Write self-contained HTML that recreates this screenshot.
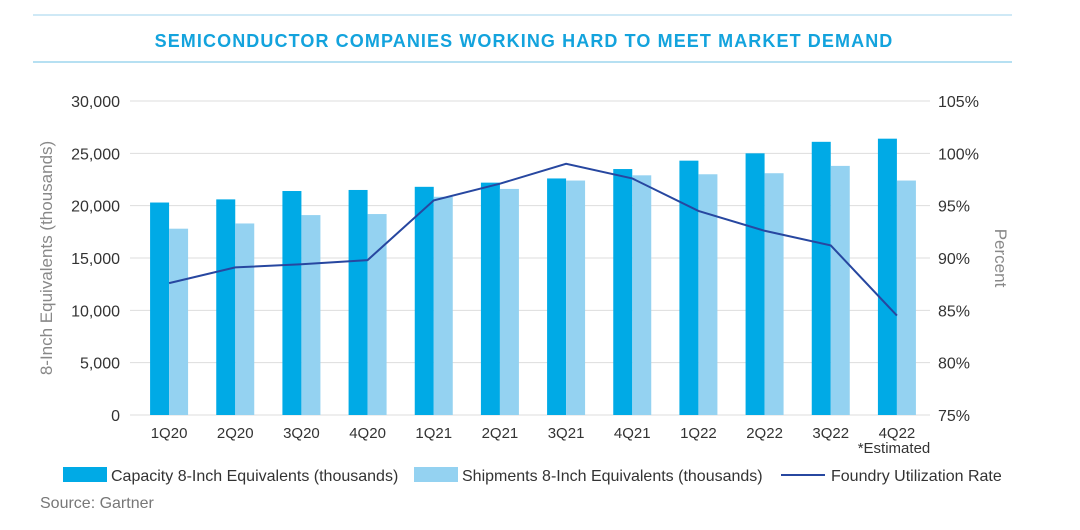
<!DOCTYPE html>
<html><head><meta charset="utf-8"><style>
body{margin:0;background:#fff;font-family:"Liberation Sans",sans-serif;}
svg text{font-family:"Liberation Sans",sans-serif;}
</style></head><body>
<svg width="1080" height="525" xmlns="http://www.w3.org/2000/svg" id="chart">
<line x1="33" y1="15" x2="1012" y2="15" stroke="#9fd3ec" stroke-width="1"/>
<line x1="33" y1="62" x2="1012" y2="62" stroke="#6cc1e6" stroke-width="1"/>
<text x="524" y="47" text-anchor="middle" font-size="18" font-weight="bold" fill="#13a3dd" letter-spacing="1.1">SEMICONDUCTOR COMPANIES WORKING HARD TO MEET MARKET DEMAND</text>
<g id="grid"></g>
<g id="bars"></g>
<g id="line"></g>
<g id="axes"></g>
<text transform="translate(52,258) rotate(-90)" text-anchor="middle" font-size="17" fill="#888">8-Inch Equivalents (thousands)</text>
<text transform="translate(995,258) rotate(90)" text-anchor="middle" font-size="17" fill="#888">Percent</text>
<text x="894" y="453" text-anchor="middle" font-size="15" fill="#333">*Estimated</text>
<g>
<rect x="63" y="467" width="44" height="15" fill="#00aae6"/>
<text x="111" y="481" font-size="16" fill="#333">Capacity 8-Inch Equivalents (thousands)</text>
<rect x="414" y="467" width="44" height="15" fill="#94d2f1"/>
<text x="462" y="481" font-size="16" fill="#333">Shipments 8-Inch Equivalents (thousands)</text>
<line x1="781" y1="475" x2="825" y2="475" stroke="#2747a0" stroke-width="2"/>
<text x="831" y="481" font-size="16" fill="#333">Foundry Utilization Rate</text>
</g>
<text x="40" y="508" font-size="16" fill="#777">Source: Gartner</text>
</svg>
<script>
const categories=["1Q20","2Q20","3Q20","4Q20","1Q21","2Q21","3Q21","4Q21","1Q22","2Q22","3Q22","4Q22"];
const capacity=[20300,20600,21400,21500,21800,22200,22600,23500,24300,25000,26100,26400];
const shipments=[17800,18300,19100,19200,20850,21600,22400,22900,23000,23100,23800,22400];
const utilization=[87.6,89.1,89.4,89.8,95.5,97.1,99.0,97.6,94.5,92.6,91.2,84.5];
const leftTicks=[0,5000,10000,15000,20000,25000,30000];
const rightTicks=[75,80,85,90,95,100,105];
const NS="http://www.w3.org/2000/svg";
const X0=136,X1=930,Y0=415,Y1=101;
const step=(X1-X0)/categories.length;
const yL=v=>Y0-(v/30000)*(Y0-Y1);
const yR=v=>Y0-((v-75)/30)*(Y0-Y1);
const xc=i=>X0+step*(i+0.5);
function mk(tag,attrs,parent){const e=document.createElementNS(NS,tag);for(const k in attrs)e.setAttribute(k,attrs[k]);document.getElementById(parent).appendChild(e);return e;}
leftTicks.forEach((t,i)=>{
 const g=mk("line",{x1:X0-6,x2:X1,y1:yL(t),y2:yL(t),stroke:"#ddd","stroke-width":1},"grid");
 
 
 const l=mk("text",{x:120,y:yL(t)+6,"text-anchor":"end","font-size":16,fill:"#333"},"axes");l.textContent=t.toLocaleString("en-US");
 
 
});
rightTicks.forEach(t=>{
 const l=mk("text",{x:938,y:yR(t)+6,"font-size":16,fill:"#333"},"axes");l.textContent=t+"%";
 
 
});
const bw=19;
categories.forEach((c,i)=>{
 const b1=mk("rect",{x:xc(i)-bw,y:yL(capacity[i]),width:bw,height:Y0-yL(capacity[i]),fill:"#00aae6"},"bars");
 
 
 const b2=mk("rect",{x:xc(i),y:yL(shipments[i]),width:bw,height:Y0-yL(shipments[i]),fill:"#94d2f1"},"bars");
 
 
 const l=mk("text",{x:xc(i),y:438,"text-anchor":"middle","font-size":15,fill:"#333"},"axes");l.textContent=c;
 
 
});
const p=mk("polyline",{points:utilization.map((v,i)=>xc(i)+","+yR(v)).join(" "),fill:"none",stroke:"#2747a0","stroke-width":2},"line");


</script>
</body></html>
